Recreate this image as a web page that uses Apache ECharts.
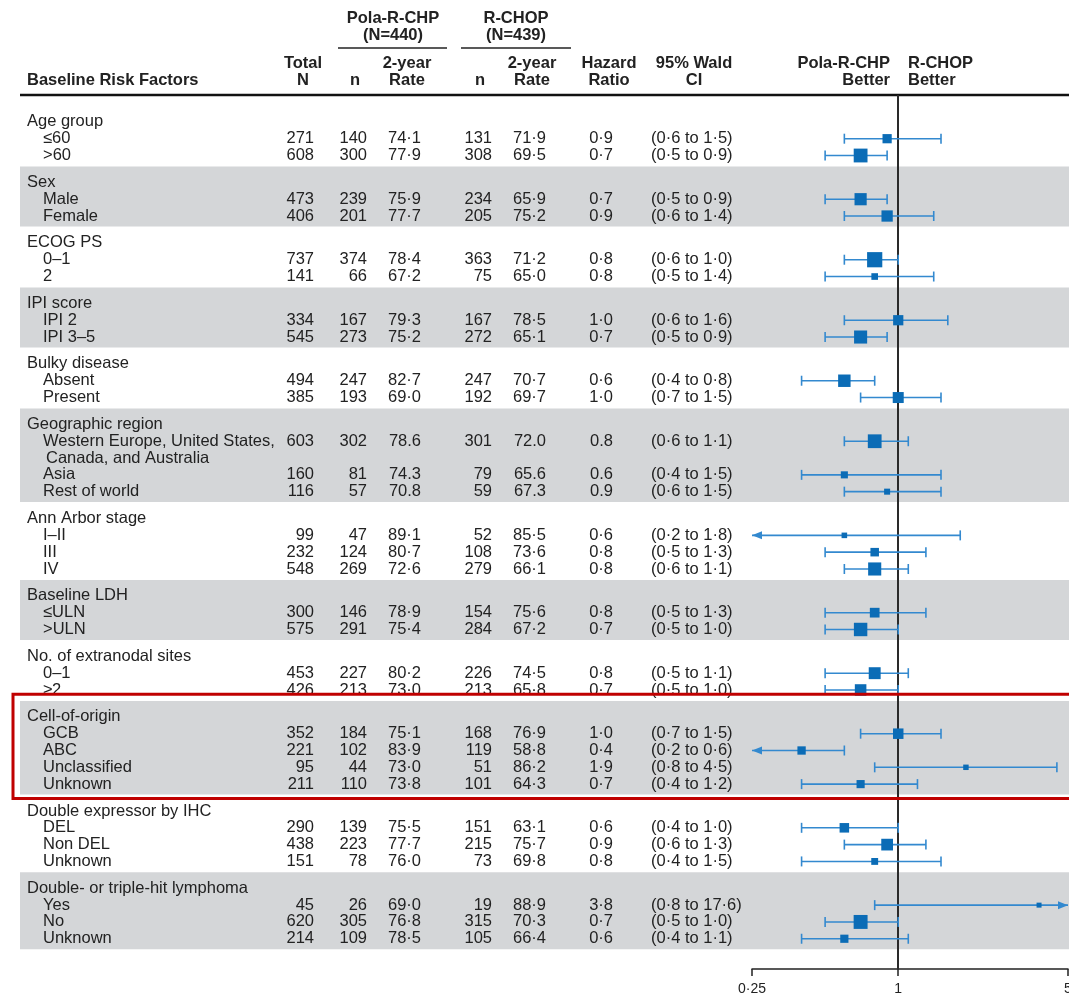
<!DOCTYPE html>
<html>
<head>
<meta charset="utf-8">
<title>Forest plot – baseline risk factors</title>
<script src="https://cdn.jsdelivr.net/npm/echarts@6/dist/echarts.min.js"></script>
<style>
  html, body { margin: 0; padding: 0; background: #ffffff; }
  #chart { width: 1069px; height: 999px; }
</style>
</head>
<body>
<div id="chart"></div>
<script>
// ---- data -----------------------------------------------------------------
const groups = [
  'Age group', 'Sex', 'ECOG PS', 'IPI score', 'Bulky disease', 'Geographic region',
  'Ann Arbor stage', 'Baseline LDH', 'No. of extranodal sites', 'Cell-of-origin',
  'Double expressor by IHC', 'Double- or triple-hit lymphoma'
];
const subgroups = [
  ['≤60', '>60'],
  ['Male', 'Female'],
  ['0–1', '2'],
  ['IPI 2', 'IPI 3–5'],
  ['Absent', 'Present'],
  ['Western Europe, United States,\nCanada, and Australia', 'Asia', 'Rest of world'],
  ['I–II', 'III', 'IV'],
  ['≤ULN', '>ULN'],
  ['0–1', '≥2'],
  ['GCB', 'ABC', 'Unclassified', 'Unknown'],
  ['DEL', 'Non DEL', 'Unknown'],
  ['Yes', 'No', 'Unknown']
];
const totalN = [271, 608, 473, 406, 737, 141, 334, 545, 494, 385, 603, 160, 116, 99, 232, 548,
  300, 575, 453, 426, 352, 221, 95, 211, 290, 438, 151, 45, 620, 214];
const polaN = [140, 300, 239, 201, 374, 66, 167, 273, 247, 193, 302, 81, 57, 47, 124, 269,
  146, 291, 227, 213, 184, 102, 44, 110, 139, 223, 78, 26, 305, 109];
const polaRate = ['74·1', '77·9', '75·9', '77·7', '78·4', '67·2', '79·3', '75·2', '82·7', '69·0',
  '78.6', '74.3', '70.8', '89·1', '80·7', '72·6', '78·9', '75·4', '80·2', '73·0',
  '75·1', '83·9', '73·0', '73·8', '75·5', '77·7', '76·0', '69·0', '76·8', '78·5'];
const rchopN = [131, 308, 234, 205, 363, 75, 167, 272, 247, 192, 301, 79, 59, 52, 108, 279,
  154, 284, 226, 213, 168, 119, 51, 101, 151, 215, 73, 19, 315, 105];
const rchopRate = ['71·9', '69·5', '65·9', '75·2', '71·2', '65·0', '78·5', '65·1', '70·7', '69·7',
  '72.0', '65.6', '67.3', '85·5', '73·6', '66·1', '75·6', '67·2', '74·5', '65·8',
  '76·9', '58·8', '86·2', '64·3', '63·1', '75·7', '69·8', '88·9', '70·3', '66·4'];
const hazardRatio = ['0·9', '0·7', '0·7', '0·9', '0·8', '0·8', '1·0', '0·7', '0·6', '1·0',
  '0.8', '0.6', '0.9', '0·6', '0·8', '0·8', '0·8', '0·7', '0·8', '0·7',
  '1·0', '0·4', '1·9', '0·7', '0·6', '0·9', '0·8', '3·8', '0·7', '0·6'];
const ciLower = ['0·6', '0·5', '0·5', '0·6', '0·6', '0·5', '0·6', '0·5', '0·4', '0·7',
  '0·6', '0·4', '0·6', '0·2', '0·5', '0·6', '0·5', '0·5', '0·5', '0·5',
  '0·7', '0·2', '0·8', '0·4', '0·4', '0·6', '0·4', '0·8', '0·5', '0·4'];
const ciUpper = ['1·5', '0·9', '0·9', '1·4', '1·0', '1·4', '1·6', '0·9', '0·8', '1·5',
  '1·1', '1·5', '1·5', '1·8', '1·3', '1·1', '1·3', '1·0', '1·1', '1·0',
  '1·5', '0·6', '4·5', '1·2', '1·0', '1·3', '1·5', '17·6', '1·0', '1·1'];
const axisTickValues = [0.25, 1, 5];
const highlightedGroup = 'Cell-of-origin';

// ---- styling / layout constants -----------------------------------------------
const FONT_FAMILY = '"Liberation Sans", Arial, Helvetica, sans-serif';
const BODY_FONT = '16.5px ' + FONT_FAMILY;
const HEAD_FONT = 'bold 16.5px ' + FONT_FAMILY;
const TEXT_COLOR = '#222222';
const BAND_COLOR = '#d4d6d8';
const CI_COLOR = '#3389cf';
const MARK_COLOR = '#0b6cb6';
const GROUP_GAP = 0.6;            // extra space between groups, in text lines
const COL = {                     // column anchors (px)
  label: 27, sub: 43, total: 314, polaN: 367, polaRate: 421,
  rchopN: 492, rchopRate: 546, hr: 613, ci: 651
};

const toNum = s => parseFloat(String(s).replace('·', '.'));

// ---- line layout: group titles, rows, shaded bands -----------------------------
const titleItems = [];
const rowItems = [];
const rowLabels = [];
const bandItems = [];
const boxItems = [];
let line = 0;
groups.forEach((g, gi) => {
  const titleLine = line;
  titleItems.push([1, line, gi]);
  line += 1;
  subgroups[gi].forEach(lbl => {
    rowItems.push([1, line, rowLabels.length]);
    rowLabels.push(lbl);
    line += lbl.split('\n').length;
  });
  const lastLine = line - 1;
  if (gi % 2 === 1) bandItems.push([1, titleLine - 0.95, lastLine + 0.62]);
  if (g === highlightedGroup) boxItems.push([1, titleLine - 1.35, lastLine + 0.85]);
  line += GROUP_GAP;
});

const forestItems = rowItems.map(([, slot, i]) => [
  toNum(hazardRatio[i]), slot, toNum(ciLower[i]), toNum(ciUpper[i]), totalN[i]
]);

const AX_MIN = axisTickValues[0];
const AX_MAX = axisTickValues[axisTickValues.length - 1];
const markSize = n => Math.max(5, 0.56 * Math.sqrt(n));

function textEl(text, x, y, align, font) {
  return {
    type: 'text', x: x, y: y,
    style: { text: text, fill: TEXT_COLOR, font: font || BODY_FONT, textAlign: align, textVerticalAlign: 'middle' }
  };
}

// ---- header (column titles) ---------------------------------------------------
const header = [
  textEl('Pola-R-CHP', 393, 18, 'center', HEAD_FONT),
  textEl('(N=440)', 393, 35, 'center', HEAD_FONT),
  textEl('R-CHOP', 516, 18, 'center', HEAD_FONT),
  textEl('(N=439)', 516, 35, 'center', HEAD_FONT),
  textEl('Total', 303, 63, 'center', HEAD_FONT),
  textEl('N', 303, 80, 'center', HEAD_FONT),
  textEl('n', 355, 80, 'center', HEAD_FONT),
  textEl('2-year', 407, 63, 'center', HEAD_FONT),
  textEl('Rate', 407, 80, 'center', HEAD_FONT),
  textEl('n', 480, 80, 'center', HEAD_FONT),
  textEl('2-year', 532, 63, 'center', HEAD_FONT),
  textEl('Rate', 532, 80, 'center', HEAD_FONT),
  textEl('Hazard', 609, 63, 'center', HEAD_FONT),
  textEl('Ratio', 609, 80, 'center', HEAD_FONT),
  textEl('95% Wald', 694, 63, 'center', HEAD_FONT),
  textEl('CI', 694, 80, 'center', HEAD_FONT),
  textEl('Pola-R-CHP', 890, 63, 'right', HEAD_FONT),
  textEl('Better', 890, 80, 'right', HEAD_FONT),
  textEl('R-CHOP', 908, 63, 'left', HEAD_FONT),
  textEl('Better', 908, 80, 'left', HEAD_FONT),
  textEl('Baseline Risk Factors', COL.label, 80, 'left', HEAD_FONT),
  { type: 'line', shape: { x1: 338, y1: 48, x2: 447, y2: 48 }, style: { stroke: '#222', lineWidth: 1.5 } },
  { type: 'line', shape: { x1: 461, y1: 48, x2: 571, y2: 48 }, style: { stroke: '#222', lineWidth: 1.5 } },
  { type: 'line', shape: { x1: 20, y1: 95, x2: 1069, y2: 95 }, style: { stroke: '#111', lineWidth: 2.5 } }
];

const chart = echarts.init(document.getElementById('chart'), null, { renderer: 'canvas' });

chart.setOption({
  animation: false,
  backgroundColor: '#ffffff',
  grid: { left: 752, width: 316, top: 95, bottom: 30, containLabel: false, outerBoundsMode: 'none' },
  xAxis: {
    type: 'log', logBase: 10, min: AX_MIN, max: AX_MAX,
    axisLine: { show: true, onZero: false, lineStyle: { color: '#222', width: 1.5 } },
    axisTick: { show: true, customValues: axisTickValues, length: 7, lineStyle: { color: '#222', width: 1.5 } },
    axisLabel: {
      customValues: axisTickValues, color: '#222', fontSize: 14, fontFamily: FONT_FAMILY, margin: 13,
      formatter: v => String(v).replace('.', '·')
    },
    splitLine: { show: false }
  },
  yAxis: { type: 'value', min: -1.6, max: 50.4, inverse: true, show: false },
  graphic: { elements: header },
  series: [
    { // shaded group bands
      type: 'custom', z: 1, silent: true, clip: false,
      encode: { x: 0, y: [1, 2] },
      data: bandItems,
      renderItem: (params, api) => {
        const y0 = api.coord([1, api.value(1)])[1];
        const y1 = api.coord([1, api.value(2)])[1];
        return { type: 'rect', shape: { x: 20, y: y0, width: 1049, height: y1 - y0 }, style: { fill: BAND_COLOR } };
      }
    },
    { // group titles
      type: 'custom', z: 3, silent: true, clip: false,
      encode: { x: 0, y: 1 },
      data: titleItems,
      renderItem: (params, api) => {
        const y = api.coord([1, api.value(1)])[1];
        return textEl(groups[api.value(2)], COL.label, y, 'left');
      }
    },
    { // table rows
      type: 'custom', z: 3, silent: true, clip: false,
      encode: { x: 0, y: 1 },
      data: rowItems,
      renderItem: (params, api) => {
        const slot = api.value(1);
        const i = api.value(2);
        const y = api.coord([1, slot])[1];
        const children = rowLabels[i].split('\n').map((t, k) =>
          textEl(t, COL.sub + (k > 0 ? 3 : 0), api.coord([1, slot + k])[1], 'left'));
        children.push(
          textEl(String(totalN[i]), COL.total, y, 'right'),
          textEl(String(polaN[i]), COL.polaN, y, 'right'),
          textEl(polaRate[i], COL.polaRate, y, 'right'),
          textEl(String(rchopN[i]), COL.rchopN, y, 'right'),
          textEl(rchopRate[i], COL.rchopRate, y, 'right'),
          textEl(hazardRatio[i], COL.hr, y, 'right'),
          textEl('(' + ciLower[i] + ' to ' + ciUpper[i] + ')', COL.ci, y, 'left')
        );
        return { type: 'group', children: children };
      }
    },
    { // hazard ratios with 95% CI
      type: 'custom', z: 5, silent: true, clip: false,
      encode: { x: 0, y: 1 },
      data: forestItems,
      renderItem: (params, api) => {
        const hr = api.value(0), slot = api.value(1);
        const lo = api.value(2), hi = api.value(3), n = api.value(4);
        const y = api.coord([1, slot])[1];
        const loClip = lo < AX_MIN, hiClip = hi > AX_MAX;
        const x0 = api.coord([loClip ? AX_MIN : lo, slot])[0];
        const x1 = api.coord([hiClip ? AX_MAX : hi, slot])[0];
        const xc = api.coord([hr, slot])[0];
        const s = markSize(n);
        const end = (x, clipped, dir) => clipped
          ? { type: 'polygon', shape: { points: [[x, y], [x - dir * 10, y - 4], [x - dir * 10, y + 4]] }, style: { fill: CI_COLOR } }
          : { type: 'line', shape: { x1: x, y1: y - 5, x2: x, y2: y + 5 }, style: { stroke: CI_COLOR, lineWidth: 1.6 } };
        return {
          type: 'group',
          children: [
            { type: 'line', shape: { x1: x0, y1: y, x2: x1, y2: y }, style: { stroke: CI_COLOR, lineWidth: 1.6 } },
            end(x0, loClip, -1),
            end(x1, hiClip, 1),
            { type: 'rect', shape: { x: xc - s / 2, y: y - s / 2, width: s, height: s }, style: { fill: MARK_COLOR } }
          ]
        };
      },
      markLine: {
        silent: true, symbol: 'none', label: { show: false },
        lineStyle: { color: '#2a2a2a', width: 2, type: 'solid' },
        data: [{ xAxis: 1 }]
      }
    },
    { // highlighted subgroup frame
      type: 'custom', z: 6, silent: true, clip: false,
      encode: { x: 0, y: [1, 2] },
      data: boxItems,
      renderItem: (params, api) => {
        const y0 = api.coord([1, api.value(1)])[1];
        const y1 = api.coord([1, api.value(2)])[1];
        return { type: 'rect', shape: { x: 13, y: y0, width: 1070, height: y1 - y0 }, style: { fill: 'none', stroke: '#c00000', lineWidth: 3 } };
      }
    }
  ]
});
</script>
</body>
</html>
